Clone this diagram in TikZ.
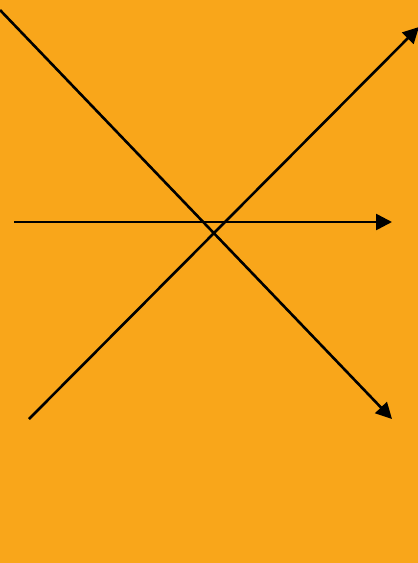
\documentclass[tikz,border=0pt]{standalone}
\usepackage{tikz}
\usetikzlibrary{arrows.meta}
\definecolor{bgorange}{HTML}{F9A61A}

\begin{document}
\begin{tikzpicture}[x=1pt, y=-1pt,
  arr/.style={-{Triangle[length=16pt, width=16pt]}, line width=2.6pt, color=black}]
\fill[bgorange] (0,0) rectangle (418,563);
\useasboundingbox (0,0) rectangle (418,563);
\coordinate (d1) at (0,10); \coordinate (d2) at (392,419);
\coordinate (u1) at (29,419); \coordinate (u2) at (419,27);
\coordinate (h1) at (14,222); \coordinate (h2) at (392,222);
\draw[arr] (d1) -- (d2); \draw[arr] (u1) -- (u2); \draw[arr] (h1) -- (h2);
\end{tikzpicture}
\end{document}
